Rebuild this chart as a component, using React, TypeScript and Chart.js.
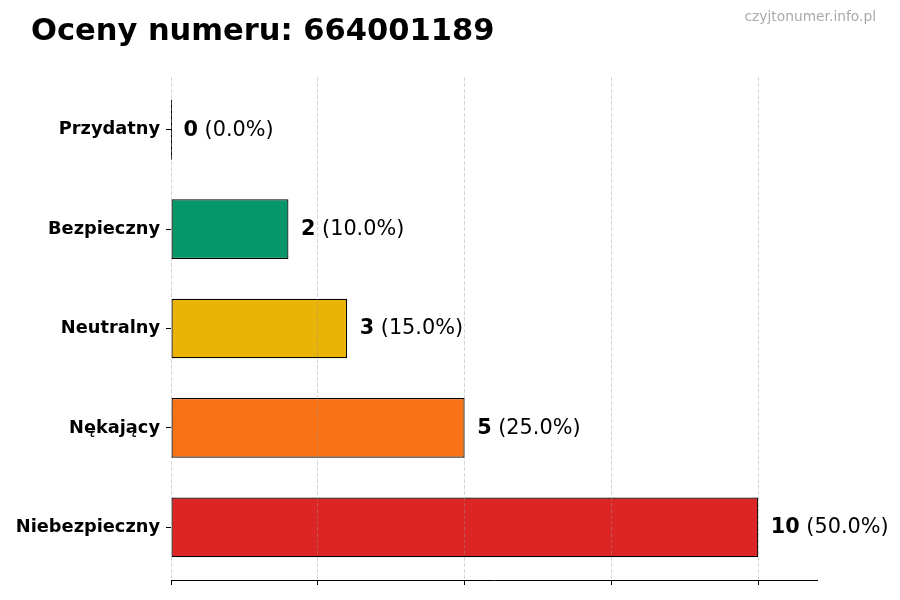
import { useEffect, useRef } from "react";
import { Chart, registerables } from "chart.js";

Chart.register(...registerables);

const TITLE = "Oceny numeru: 664001189";
const WATERMARK = "czyjtonumer.info.pl";
const CATEGORIES = ["Przydatny", "Bezpieczny", "Neutralny", "Nękający", "Niebezpieczny"];
const COUNTS = [0, 2, 3, 5, 10];
const COLORS = ["#16A34A", "#059669", "#EAB308", "#F97316", "#DC2626"];
const X_TICKS = [0, 2.5, 5, 7.5, 10];
const X_MAX = 11;
const Y_MIN = -0.53;
const Y_MAX = 4.53;

const FONT = "'DejaVu Sans', 'Liberation Sans', sans-serif";

const decorPlugin = {
  id: "decor",
  afterDraw(chart: any) {
    const ctx = chart.ctx;
    ctx.save();
    ctx.fillStyle = "#000";
    ctx.font = `bold 30.5px ${FONT}`;
    ctx.textAlign = "left";
    ctx.textBaseline = "alphabetic";
    ctx.fillText(TITLE, 31, 40);
    ctx.fillStyle = "#aaaaaa";
    ctx.font = `13.8px ${FONT}`;
    ctx.textAlign = "right";
    ctx.textBaseline = "middle";
    ctx.fillText(WATERMARK, 876, 17);
    ctx.restore();
  },
};

const labelPlugin = {
  id: "barLabels",
  afterDatasetsDraw(chart: any) {
    const ctx = chart.ctx;
    const meta = chart.getDatasetMeta(0);
    const total = COUNTS.reduce((a, b) => a + b, 0);
    ctx.save();
    meta.data.forEach((el: any, i: number) => {
      const { x, y, height } = el.getProps(["x", "y", "height"], true);
      const v = COUNTS[i];
      if (v === 0) {
        ctx.strokeStyle = "#000";
        ctx.lineWidth = 1;
        ctx.beginPath();
        ctx.moveTo(Math.round(x) + 0.5, y - height / 2);
        ctx.lineTo(Math.round(x) + 0.5, y + height / 2);
        ctx.stroke();
      }
      const pct = total ? ((v / total) * 100).toFixed(1) : "0.0";
      const tx = x + 12.5;
      ctx.textBaseline = "middle";
      ctx.textAlign = "left";
      ctx.fillStyle = "#000";
      ctx.font = `bold 20.8px ${FONT}`;
      const s1 = String(v);
      ctx.fillText(s1, tx, y + 0.5);
      const w1 = ctx.measureText(s1).width;
      ctx.font = `20.8px ${FONT}`;
      ctx.fillText(` (${pct}%)`, tx + w1, y + 0.5);
    });
    ctx.restore();
  },
};

export default function App() {
  const ref = useRef<HTMLCanvasElement | null>(null);

  useEffect(() => {
    if (!ref.current) return;
    const chart = new Chart(ref.current, {
      type: "bar",
      data: {
        datasets: [
          {
            data: COUNTS.map((v, i) => ({ x: v, y: i })),
            backgroundColor: COLORS,
            borderColor: "#000",
            borderWidth: 1.2,
            borderSkipped: false,
            barPercentage: 0.6,
            categoryPercentage: 1,
          },
        ],
      },
      options: {
        indexAxis: "y",
        animation: false,
        responsive: false,
        maintainAspectRatio: false,
        layout: { padding: { top: 77, right: 83, left: 0, bottom: 0 } },
        plugins: {
          legend: { display: false },
          tooltip: { enabled: false },
          title: { display: false },
        },
        scales: {
          x: {
            type: "linear",
            min: 0,
            max: X_MAX,
            offset: false,
            afterBuildTicks: (scale: any) => {
              scale.ticks = X_TICKS.map((v) => ({ value: v }));
            },
            afterFit: (scale: any) => {
              scale.height = 20;
            },
            ticks: { display: false },
            grid: {
              display: true,
              offset: false,
              drawOnChartArea: true,
              drawTicks: true,
              color: "rgba(150,150,150,0.4)",
              lineWidth: 1,
              tickColor: "#000",
              tickLength: 5,
              tickWidth: 1,
              tickBorderDash: [],
              z: 1,
            },
            border: { display: true, color: "#000", width: 1, dash: [4, 2], z: 2 },
          },
          y: {
            type: "linear",
            min: Y_MIN,
            max: Y_MAX,
            reverse: true,
            offset: false,
            afterBuildTicks: (scale: any) => {
              scale.ticks = CATEGORIES.map((_, i) => ({ value: i }));
            },
            afterFit: (scale: any) => {
              scale.width = 171;
            },
            ticks: {
              autoSkip: false,
              padding: 6,
              color: "#000",
              font: { family: FONT, weight: "bold", size: 17.8 },
              callback: (v: any) => CATEGORIES[v] ?? "",
            },
            grid: {
              display: true,
              offset: false,
              drawOnChartArea: false,
              drawTicks: true,
              tickColor: "#000",
              tickLength: 5,
              tickWidth: 1,
            },
            border: { display: false },
          },
        },
      },
      plugins: [labelPlugin, decorPlugin],
    } as any);
    return () => chart.destroy();
  }, []);

  return (
    <div
      style={{
        position: "fixed",
        left: 0,
        top: 0,
        width: 900,
        height: 600,
        background: "#fff",
      }}
    >
      <canvas ref={ref} width={900} height={600} />
    </div>
  );
}
